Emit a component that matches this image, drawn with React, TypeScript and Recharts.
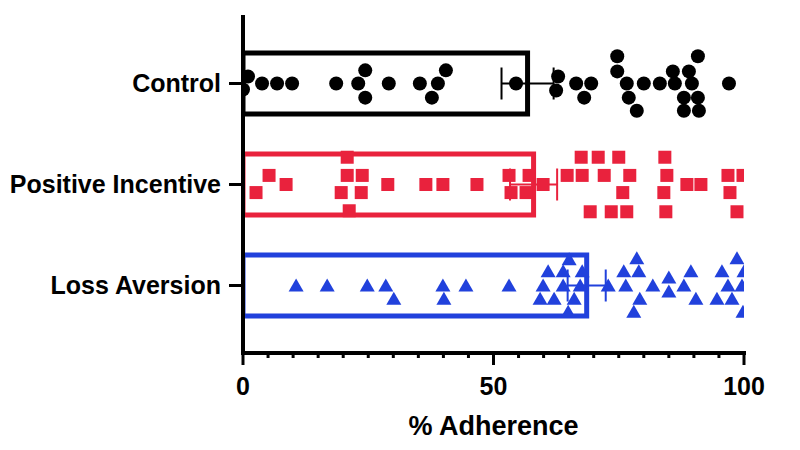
import {
  Bar,
  Cell,
  ComposedChart,
  ErrorBar,
  Label,
  Scatter,
  XAxis,
  YAxis
} from "recharts";

const groups = ["Control", "Positive Incentive", "Loss Aversion"];
const means = [56.8, 58.0, 68.6];
const sems = [5.2, 4.7, 3.8];
const colors = ["#000000", "#e9223d", "#2141dc"];

// [adherence %, vertical jitter in category units, + is downwards]
const controlPoints: [number, number][] = [
  [0, 0.06], [1, -0.07], [3.8, 0], [6.8, 0], [9.8, 0], [18.6, 0], [23, 0],
  [24.4, -0.13], [24.4, 0.14], [29.1, 0], [35.3, 0], [38.9, 0], [37.7, 0.14],
  [40.5, -0.13], [54.5, 0], [62.9, -0.07], [62.5, 0.07], [66.5, 0], [69.5, 0],
  [68.1, 0.14], [74.7, -0.27], [74.7, -0.12], [76.6, 0], [77, 0.14], [78.6, 0.27],
  [80, 0], [83.2, 0], [85.8, -0.12], [86.2, 0], [89, -0.12], [90.8, -0.27],
  [89.6, 0], [88, 0.14], [90.8, 0.14], [88, 0.27], [91, 0.27], [97, 0]
];

const positivePoints: [number, number][] = [
  [2.6, 0.08], [5.2, -0.09], [8.6, 0], [20.8, -0.27], [20.8, -0.09], [23.8, -0.09],
  [19.6, 0.08], [23.6, 0.08], [21.2, 0.26], [28.9, 0], [36.5, 0], [39.9, 0],
  [46.7, 0], [53.1, -0.09], [53.5, 0.08], [56.5, 0.08], [57.1, -0.09], [59.9, 0],
  [64.7, -0.09], [67.7, -0.09], [67.5, -0.27], [70.9, -0.27], [72.1, -0.09],
  [75, -0.27], [77.2, -0.09], [75.8, 0.08], [69.3, 0.27], [73.5, 0.27], [76.6, 0.27],
  [84.2, -0.27], [84.6, -0.09], [84, 0.08], [84.4, 0.27], [88.6, 0], [91.4, 0],
  [96.8, -0.09], [99.8, -0.09], [97.2, 0.08], [98.6, 0.27]
];

const lossPoints: [number, number][] = [
  [10.6, 0], [16.8, 0], [24.8, 0], [28.5, 0], [30.1, 0.13], [39.9, 0], [40.1, 0.13],
  [44.5, 0], [53.1, 0], [65.1, -0.26], [60.9, -0.14], [63.9, -0.14], [67.7, -0.14],
  [59.9, 0], [63.9, 0], [67.3, 0], [59.3, 0.13], [62.1, 0.13], [66.1, 0.13],
  [64.9, 0.26], [72.9, 0], [76, -0.14], [79, -0.14], [78.6, -0.27], [76.4, 0],
  [79.2, 0.13], [78, 0.26], [81.8, 0], [85, -0.08], [85, 0.06], [89.4, -0.14],
  [88, 0], [90.4, 0.13], [95.6, -0.14], [98.6, -0.27], [100, -0.14], [96.8, 0],
  [99.6, 0], [94.6, 0.13], [97.6, 0.13], [99.8, 0.26]
];

const xTicks = [0, 5, 10, 15, 20, 25, 30, 35, 40, 45, 50, 55, 60, 65, 70, 75, 80, 85, 90, 95, 100];
const xLabels = [0, 50, 100];

const barData = groups.map((name, i) => ({ name, mean: means[i] }));

// in a vertical layout the numeric y axis runs top-down, matching the category order
const toPoints = (pts: [number, number][], idx: number) =>
  pts.map(([v, j]) => ({ x: v, y: idx + 0.5 + j }));

const meanData = (idx: number) => [{ x: means[idx], y: idx + 0.5, e: sems[idx] }];

const catPadding = { top: 16, bottom: 17 };

function XTick(props: any) {
  const { x, y, payload } = props;
  const v = payload.value;
  const major = xLabels.includes(v);
  return (
    <g>
      <line x1={x} x2={x} y1={y} y2={y + (major ? 12 : 5)} stroke="#000" strokeWidth={3} />
      {major && (
        <text x={x} y={y + 42} textAnchor="middle" fontSize={25} fontWeight={700} fill="#000">
          {v}
        </text>
      )}
    </g>
  );
}

const circle = (color: string) => (p: any) => <circle cx={p.cx} cy={p.cy} r={7} fill={color} />;
const square = (color: string) => (p: any) => (
  <rect x={p.cx - 6.5} y={p.cy - 6.5} width={13} height={13} fill={color} />
);
const triangle = (color: string) => (p: any) => (
  <polygon
    points={`${p.cx},${p.cy - 7} ${p.cx + 7.5},${p.cy + 6} ${p.cx - 7.5},${p.cy + 6}`}
    fill={color}
  />
);

export default function App() {
  return (
    <div
      style={{
        position: "absolute",
        left: 0,
        top: 0,
        width: 800,
        height: 450,
        background: "#fff",
        fontFamily: "'Liberation Sans', Arial, sans-serif"
      }}
    >
      <ComposedChart
        width={800}
        height={450}
        layout="vertical"
        data={barData}
        margin={{ top: 17, right: 56, bottom: 0, left: 0 }}
      >
        <XAxis
          xAxisId="b"
          type="number"
          domain={[0, 100]}
          allowDataOverflow
          ticks={xTicks}
          interval={0}
          height={97}
          tickSize={0}
          tickMargin={0}
          tickLine={false}
          tick={<XTick />}
          axisLine={{ stroke: "#000", strokeWidth: 4, strokeLinecap: "square" }}
        >
          <Label
            value="% Adherence"
            position="insideBottom"
            offset={15}
            fontSize={27}
            fontWeight={700}
            fill="#000"
          />
        </XAxis>
        <XAxis xAxisId="p" type="number" dataKey="x" domain={[0, 100]} allowDataOverflow hide />
        <YAxis
          yAxisId="c"
          type="category"
          dataKey="name"
          width={243}
          padding={catPadding}
          tickSize={14}
          tickMargin={8}
          tick={{ fontSize: 25, fontWeight: 700, fill: "#000" }}
          tickLine={{ stroke: "#000", strokeWidth: 3 }}
          axisLine={{ stroke: "#000", strokeWidth: 4, strokeLinecap: "square" }}
        />
        <YAxis
          yAxisId="n"
          type="number"
          dataKey="y"
          domain={[0, 3]}
          allowDataOverflow
          padding={catPadding}
          hide
        />
        <Bar
          dataKey="mean"
          xAxisId="b"
          yAxisId="c"
          barSize={61}
          fill="none"
          strokeWidth={5}
          isAnimationActive={false}
        >
          {groups.map((g, i) => (
            <Cell key={g} stroke={colors[i]} fill="none" />
          ))}
        </Bar>
        <Scatter
          data={toPoints(controlPoints, 0)}
          xAxisId="p"
          yAxisId="n"
          shape={circle(colors[0])}
          isAnimationActive={false}
        />
        <Scatter
          data={toPoints(positivePoints, 1)}
          xAxisId="p"
          yAxisId="n"
          shape={square(colors[1])}
          isAnimationActive={false}
        />
        <Scatter
          data={toPoints(lossPoints, 2)}
          xAxisId="p"
          yAxisId="n"
          shape={triangle(colors[2])}
          isAnimationActive={false}
        />
        {groups.map((g, i) => (
          <Scatter
            key={g}
            data={meanData(i)}
            xAxisId="p"
            yAxisId="n"
            shape={() => <g />}
            isAnimationActive={false}
          >
            <ErrorBar dataKey="e" direction="x" width={16} stroke={colors[i]} strokeWidth={2} />
          </Scatter>
        ))}
      </ComposedChart>
    </div>
  );
}
